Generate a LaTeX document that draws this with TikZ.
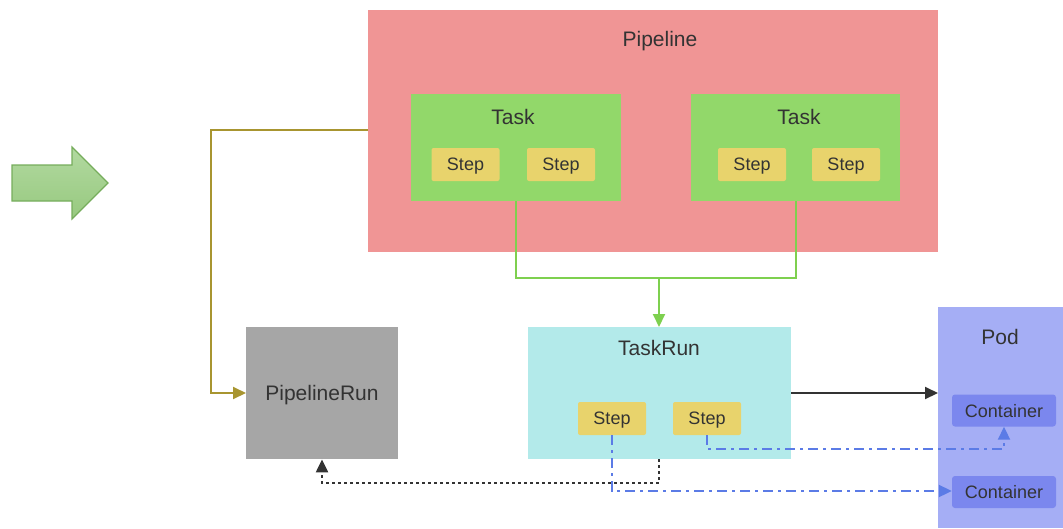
\documentclass[tikz,border=0pt]{standalone}
\usepackage{fontspec}
\setmainfont{Liberation Sans}
\usetikzlibrary{arrows.meta}
\definecolor{pipered}{HTML}{F09595}
\definecolor{taskgreen}{HTML}{92D86A}
\definecolor{stepyellow}{HTML}{E8D36C}
\definecolor{trcyan}{HTML}{B3EAEA}
\definecolor{prgray}{HTML}{A6A6A6}
\definecolor{podblue}{HTML}{A5AEF5}
\definecolor{contblue}{HTML}{7B87EE}
\definecolor{olive}{HTML}{A89530}
\definecolor{linegreen}{HTML}{7ED04F}
\definecolor{dashblue}{HTML}{5B7BE6}
\definecolor{arrowedge}{HTML}{76AD5C}
\definecolor{arrowtop}{HTML}{B2D9A0}
\definecolor{arrowbot}{HTML}{97C97F}
\definecolor{txt}{HTML}{333333}
\tikzset{
  box/.style={draw=none, inner sep=0pt, text=txt},
  stepbox/.style={box, fill=stepyellow, rounded corners=2pt, minimum width=68pt, minimum height=33pt, text depth=0pt, font=\fontsize{18}{20}\selectfont},
  contbox/.style={box, fill=contblue, rounded corners=3pt, minimum width=104pt, minimum height=32pt, text depth=0pt, font=\fontsize{18}{20}\selectfont},
  lbl/.style={text=txt, text depth=0pt, font=\fontsize{21}{24}\selectfont},
  tip/.style={-{Triangle[length=13pt,width=12pt]}},
}
\begin{document}
\begin{tikzpicture}[x=1pt,y=-1pt]
\useasboundingbox (0,0) rectangle (1063,528);
% green arrow
\draw[draw=arrowedge, top color=arrowtop, bottom color=arrowbot, line width=1.2pt]
  (12,165) -- (72,165) -- (72,147) -- (108,183) -- (72,219) -- (72,201) -- (12,201) -- cycle;
% Pipeline
\node[box, fill=pipered, minimum width=570pt, minimum height=242pt, anchor=north west] (pipe) at (368,10) {};
\node[lbl] (pipelbl) at (660,39) {Pipeline};
% Tasks
\node[box, fill=taskgreen, minimum width=210pt, minimum height=107pt, anchor=north west] (task1) at (411,94) {};
\node[lbl] (task1lbl) at (513,117) {Task};
\node[stepbox] (s11) at (465.5,164.5) {Step};
\node[stepbox] (s12) at (561,164.5) {Step};
\node[box, fill=taskgreen, minimum width=209pt, minimum height=107pt, anchor=north west] (task2) at (691,94) {};
\node[lbl] (task2lbl) at (799,117) {Task};
\node[stepbox] (s21) at (752,164.5) {Step};
\node[stepbox] (s22) at (846,164.5) {Step};
% TaskRun
\node[box, fill=trcyan, minimum width=263pt, minimum height=132pt, anchor=north west] (tr) at (528,327) {};
\node[lbl] (trlbl) at (659,348) {TaskRun};
\node[stepbox] (ts1) at (612,418.5) {Step};
\node[stepbox] (ts2) at (707,418.5) {Step};
% PipelineRun
\node[box, fill=prgray, minimum width=152pt, minimum height=132pt, anchor=north west] (pr) at (246,327) {};
\node[lbl] (prlbl) at (322,393) {PipelineRun};
% Pod
\node[box, fill=podblue, minimum width=125pt, minimum height=221pt, anchor=north west] (pod) at (938,307) {};
\node[lbl] (podlbl) at (1000,337) {Pod};
\node[contbox] (c1) at (1004,410.5) {Container};
\node[contbox] (c2) at (1004,492) {Container};
% green connectors
\coordinate (gj) at (659,278);
\draw[linegreen, line width=2pt] (task1.south -| 516,0) |- (gj);
\draw[linegreen, line width=2pt] (task2.south -| 796,0) |- (gj);
\draw[linegreen, line width=2pt, tip] (gj) -- (tr.north -| gj);
% olive connector
\draw[olive, line width=2pt, tip] (pipe.west |- 0,130) -| (211,393) -- (pr.west |- 0,393);
% dotted
\draw[txt, line width=2.2pt, dash pattern=on 3pt off 3pt, -{Triangle[length=13pt,width=12pt]}] (tr.south -| 659,0) -- (659,483) -| (pr.south -| 322,0);
% black arrow
\draw[txt, line width=2pt, tip] (tr.east |- 0,393) -- (pod.west |- 0,393);
% blue dash-dot
\draw[dashblue, line width=2pt, dash pattern=on 10pt off 5pt on 3pt off 5pt, tip] (ts2.south) -- (707,449) -| (c1.south);
\draw[dashblue, line width=2pt, dash pattern=on 10pt off 5pt on 3pt off 5pt, tip] (ts1.south) -- (612,491) -- (c2.west |- 0,491);
\end{tikzpicture}
\end{document}
